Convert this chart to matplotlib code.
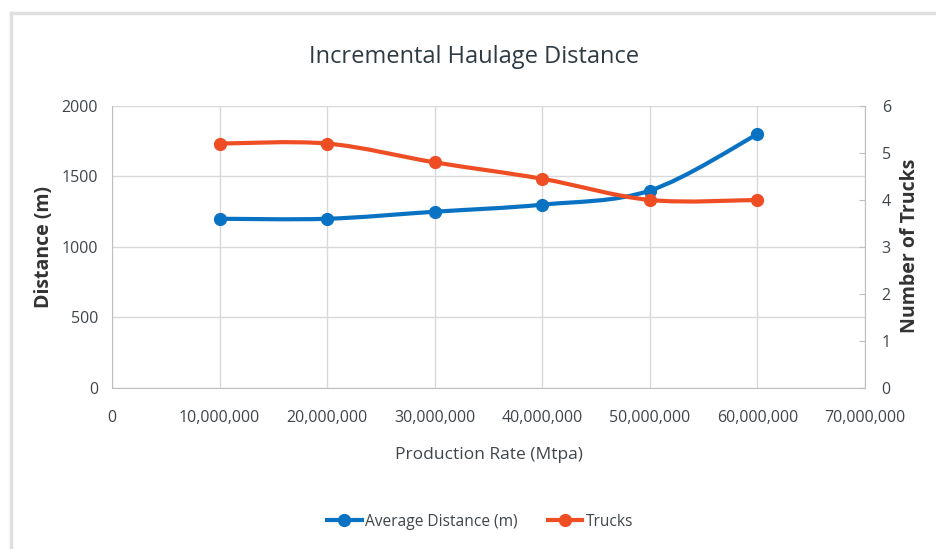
import matplotlib
matplotlib.use("Agg")
import matplotlib.pyplot as plt
from matplotlib.path import Path
from matplotlib.patches import PathPatch
from matplotlib.lines import Line2D
from matplotlib.ticker import FuncFormatter, MultipleLocator

plt.rcParams["font.family"] = ["Open Sans", "DejaVu Sans"]

production_rate = [10_000_000, 20_000_000, 30_000_000, 40_000_000, 50_000_000, 60_000_000]
avg_distance = [1200, 1200, 1250, 1300, 1400, 1800]
trucks = [5.2, 5.2, 4.8, 4.45, 4.0, 4.0]

BLUE = "#0A72C2"
ORANGE = "#EF4D24"
TEXT = "#3F4549"
GRID = "#D9D9D9"


def smooth_path(xs, ys):
    """Excel-style smoothed line: cubic Bezier segments through the points."""
    pts = list(zip(xs, ys))
    verts = [pts[0]]
    codes = [Path.MOVETO]
    for i in range(len(pts) - 1):
        p0 = pts[i - 1] if i > 0 else pts[i]
        p1 = pts[i]
        p2 = pts[i + 1]
        p3 = pts[i + 2] if i + 2 < len(pts) else pts[i + 1]
        c1 = (p1[0] + (p2[0] - p0[0]) / 6, p1[1] + (p2[1] - p0[1]) / 6)
        c2 = (p2[0] - (p3[0] - p1[0]) / 6, p2[1] - (p3[1] - p1[1]) / 6)
        verts += [c1, c2, p2]
        codes += [Path.CURVE4] * 3
    return Path(verts, codes)


fig = plt.figure(figsize=(9.36, 5.49), dpi=100)
ax = fig.add_axes([0.1197, 0.2933, 0.8045, 0.5137])
ax2 = ax.twinx()

# light frame of the chart area (left and top edges visible)
fig.add_artist(Line2D([0.0117, 0.0117], [0.977, 0.0], color="#E0E0E0", lw=2.5, transform=fig.transFigure))
fig.add_artist(Line2D([0.0117, 1.0], [0.977, 0.977], color="#E0E0E0", lw=2.5, transform=fig.transFigure))

ax.add_patch(PathPatch(smooth_path(production_rate, avg_distance), fill=False,
                       edgecolor=BLUE, lw=3, capstyle="round", zorder=3))
ax.plot(production_rate, avg_distance, ls="none", marker="o", ms=8.5, color=BLUE, zorder=4)

ax2.add_patch(PathPatch(smooth_path(production_rate, trucks), fill=False,
                        edgecolor=ORANGE, lw=3, capstyle="round", zorder=3))
ax2.plot(production_rate, trucks, ls="none", marker="o", ms=8.5, color=ORANGE, zorder=4)

ax.set_xlim(0, 70_000_000)
ax.set_ylim(0, 2000)
ax2.set_ylim(0, 6)
ax.xaxis.set_major_locator(MultipleLocator(10_000_000))
ax.yaxis.set_major_locator(MultipleLocator(500))
ax2.yaxis.set_major_locator(MultipleLocator(1))
ax.xaxis.set_major_formatter(FuncFormatter(lambda v, p: f"{int(v):,}"))

ax.grid(True, color=GRID, lw=1)
ax.set_axisbelow(True)
for a in (ax, ax2):
    a.spines["top"].set_visible(False)
    for s in a.spines.values():
        s.set_color("#BFBFBF")
ax.spines["right"].set_visible(False)
ax2.spines["left"].set_visible(False)
ax2.spines["bottom"].set_visible(False)

ax.tick_params(axis="x", length=0, pad=16, labelsize=11.5, labelcolor=TEXT)
ax.tick_params(axis="y", length=0, pad=10, labelsize=11.5, labelcolor=TEXT)
ax2.tick_params(axis="y", direction="in", length=4, color="#BFBFBF", pad=12,
                labelsize=11.5, labelcolor=TEXT)

fig.text(0.507, 0.897, "Incremental Haulage Distance", ha="center", va="center",
         fontsize=17, color="#2E3B44")
fig.text(0.522, 0.172, "Production Rate (Mtpa)", ha="center", va="center",
         fontsize=12.5, color=TEXT)
fig.text(0.047, 0.55, "Distance (m)", ha="center", va="center", rotation=90,
         fontsize=14, color="#333333", fontweight="bold")
fig.text(0.972, 0.553, "Number of Trucks", ha="center", va="center", rotation=90,
         fontsize=14, color="#333333", fontweight="bold")

handles = [Line2D([], [], color=BLUE, lw=3, marker="o", ms=8.5),
           Line2D([], [], color=ORANGE, lw=3, marker="o", ms=8.5)]
fig.legend(handles, ["Average Distance (m)", "Trucks"], loc="center",
           bbox_to_anchor=(0.513, 0.05), ncol=2, frameon=False, fontsize=11.2,
           labelcolor=TEXT, handlelength=2.2, handletextpad=0.2, columnspacing=2.0)

fig.savefig("out.png", dpi=100, facecolor="white")
